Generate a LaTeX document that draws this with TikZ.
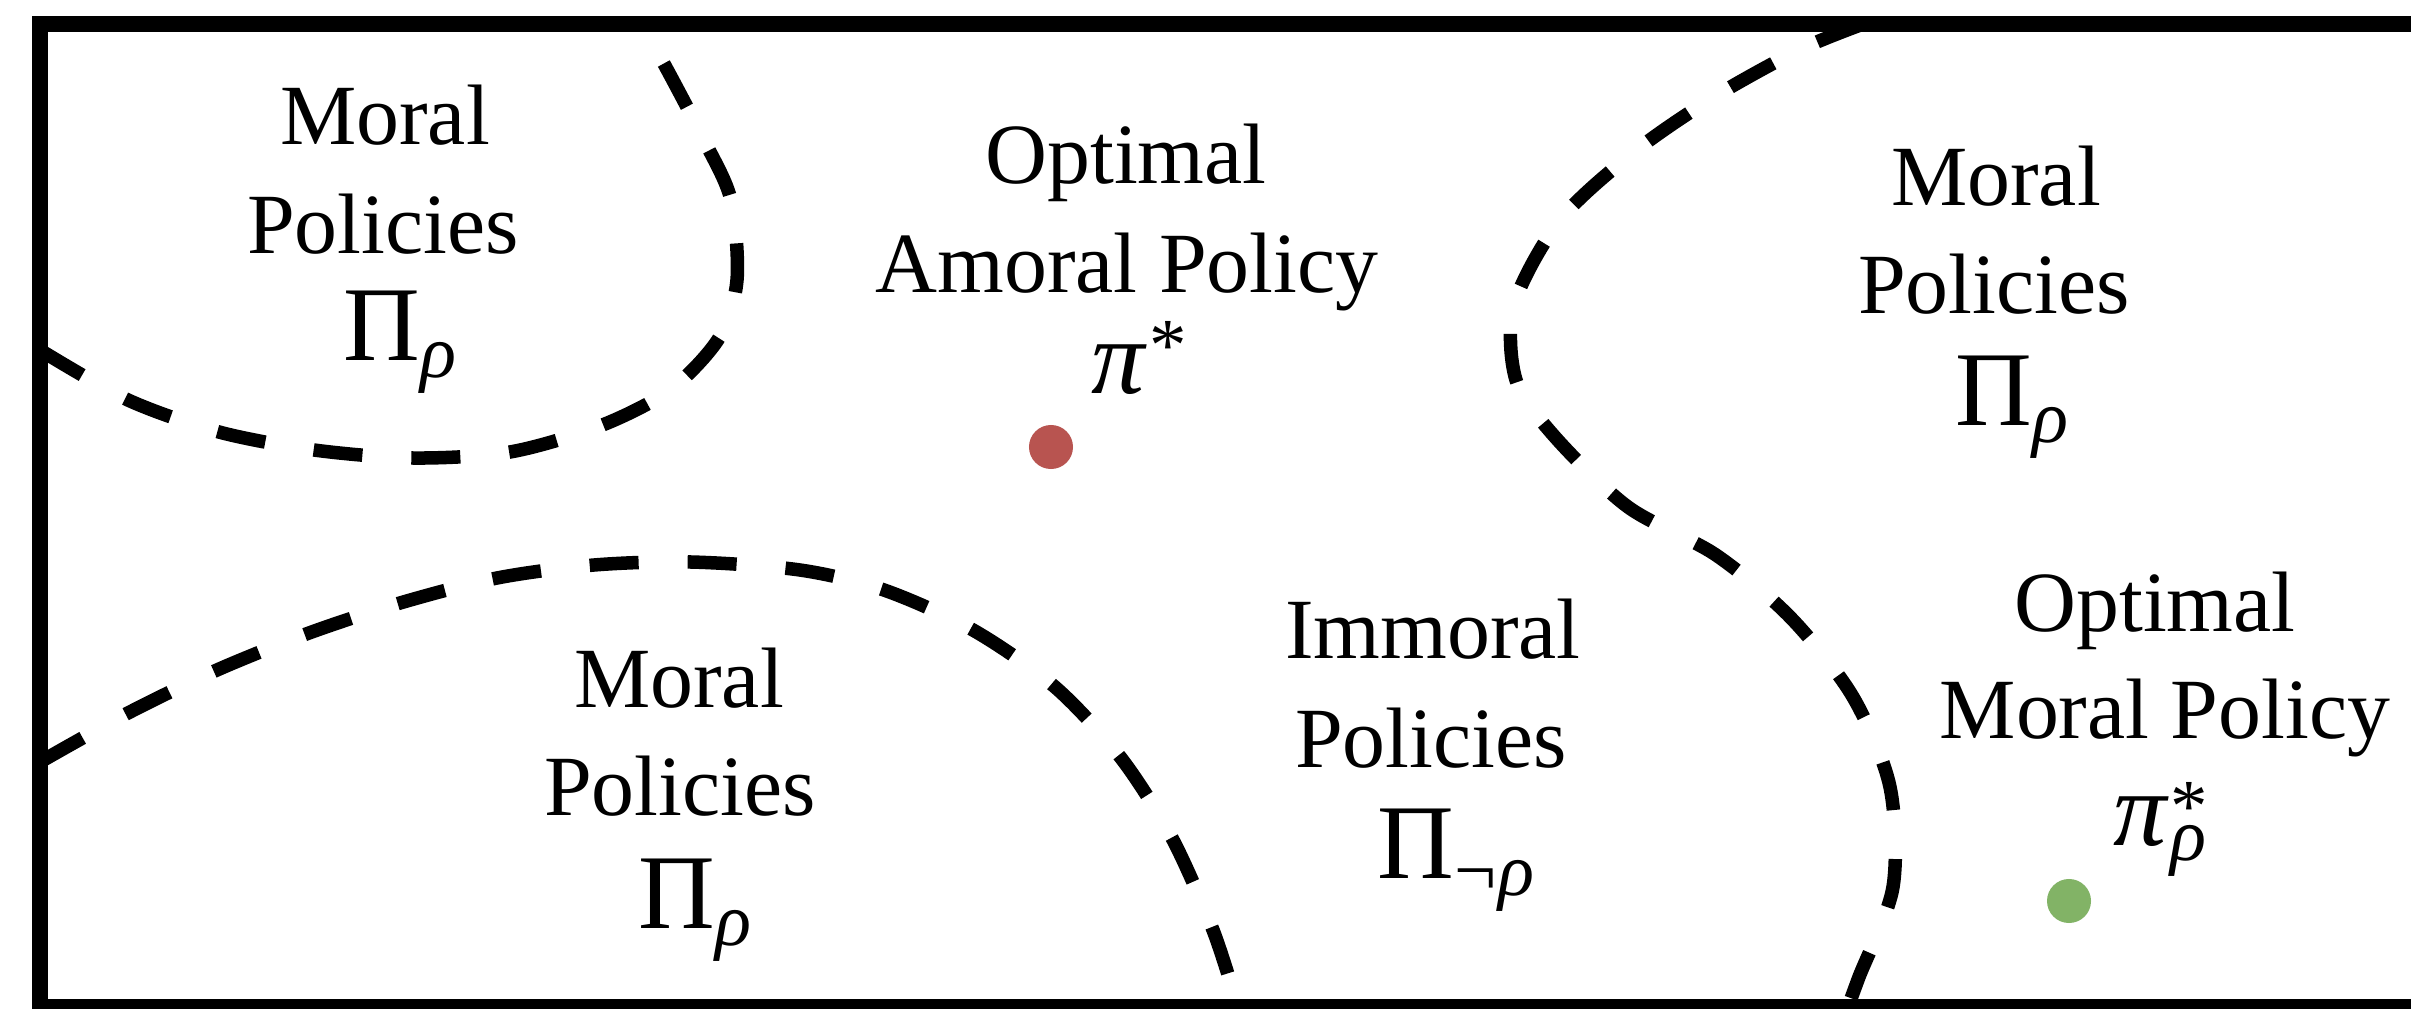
\documentclass[tikz,border=0pt]{standalone}
\usepackage{fontspec}
\setmainfont{Liberation Serif}
\definecolor{dotred}{HTML}{B85450}
\definecolor{dotgreen}{HTML}{82B366}
\newcommand{\mathsz}{\fontsize{30.2}{30.2}\selectfont}
\newcommand{\subsz}{\fontsize{21.3}{21.3}\selectfont}
\begin{document}
\begin{tikzpicture}[x=0.01cm,y=-0.01cm,
  lbl/.style={anchor=base, inner sep=0pt, font=\fontsize{24.4}{24.4}\selectfont},
  sym/.style={anchor=base, inner sep=0pt, font=\mathsz},
  border/.style={line width=0.16cm},
  region/.style={line width=0.135cm, dash pattern=on 0.49cm off 0.49cm},
  dot/.style={circle, inner sep=0pt, minimum size=0.44cm}]
\useasboundingbox (0,0) rectangle (2411,1009);
\fill[white] (0,0) rectangle (2411,1009);

% region boundaries
\draw[region] plot[smooth] coordinates {(40,350) (128,400) (219,432) (314,450) (413,458) (510,452) (600,426) (670,390) (719,338) (737,280) (731,200) (704,140) (663,62) (640,24)};
\draw[region] plot[smooth] coordinates {(40,762) (128,713) (217,670) (309,633) (400,603) (497,578) (594,565) (691,562) (800,570) (884,590) (973,630) (1055,687) (1121,758) (1172,838) (1213,930) (1238,1007)};
\draw[region] plot[smooth] coordinates {(1863,24) (1799,50) (1714,97) (1634,152) (1560,220) (1514,305) (1516,380) (1555,437) (1628,507) (1716,555) (1791,618) (1853,697) (1890,787) (1893,887) (1859,977) (1848,1007)};

% frame
\draw[border] (40,24) rectangle (2460,1007);

% top-left moral region
\node[lbl] (tl1) at (385,144) {Moral};
\node[lbl] (tl2) at (383,253) {Policies};
\node[sym] (tl3) at (400,360) {Π\raisebox{-5pt}{\subsz\itshape ρ}};

% optimal amoral policy
\node[lbl] (am1) at (1126,183) {Optimal};
\node[lbl] (am2) at (1127,292) {Amoral Policy};
\node[sym] (am3) at (1139,393) {{\itshape π}\kern1.5pt\raisebox{6.3pt}{\subsz *}};
\node[dot, fill=dotred] (amdot) at (1051,447) {};

% top-right moral region
\node[lbl] (tr1) at (1996,205) {Moral};
\node[lbl] (tr2) at (1994,313) {Policies};
\node[sym] (tr3) at (2012,425) {Π\raisebox{-5pt}{\subsz\itshape ρ}};

% bottom-left moral region
\node[lbl] (bl1) at (679,707) {Moral};
\node[lbl] (bl2) at (680,815) {Policies};
\node[sym] (bl3) at (695,928) {Π\raisebox{-5pt}{\subsz\itshape ρ}};

% immoral region
\node[lbl] (im1) at (1433,658) {Immoral};
\node[lbl] (im2) at (1431,767) {Policies};
\node[sym] (im3) at (1456,878) {Π\raisebox{-5pt}{\subsz ¬\kern0.5pt\itshape ρ}};

% optimal moral policy
\node[lbl] (om1) at (2155,631) {Optimal};
\node[lbl] (om2) at (2165,738) {Moral Policy};
\node[sym] (om3) at (2160,845) {{\itshape π}\kern1pt\rlap{\raisebox{3.8pt}{\subsz *}}\raisebox{-4.5pt}{\subsz\itshape ρ}};
\node[dot, fill=dotgreen] (omdot) at (2069,901) {};
\end{tikzpicture}
\end{document}
